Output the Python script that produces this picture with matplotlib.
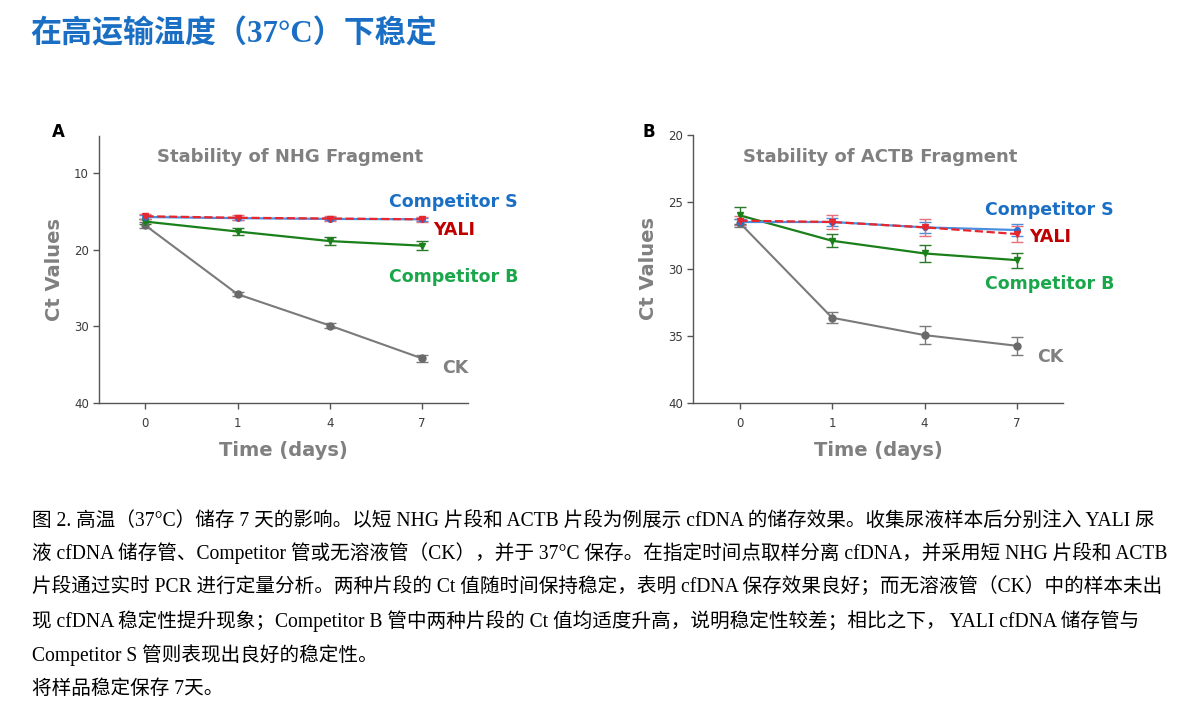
import matplotlib
matplotlib.use("Agg")
import matplotlib.pyplot as plt

plt.rcParams['font.family'] = ['DejaVu Sans']

W, H = 1194, 714

days = ["0", "1", "4", "7"]

# Panel A - NHG fragment
nhg_S = [15.7, 15.85, 15.95, 16.0]
nhg_S_err = [0.2, 0.2, 0.2, 0.2]
nhg_Y = [15.6, 15.8, 15.9, 16.0]
nhg_Y_err = [0.35, 0.3, 0.3, 0.3]
nhg_B = [16.3, 17.6, 18.85, 19.45]
nhg_B_err = [0.35, 0.4, 0.5, 0.55]
nhg_CK = [16.8, 25.8, 29.9, 34.2]
nhg_CK_err = [0.4, 0.25, 0.35, 0.5]

# Panel B - ACTB fragment
actb_S = [26.5, 26.5, 26.9, 27.1]
actb_S_err = [0.2, 0.3, 0.4, 0.45]
actb_Y = [26.4, 26.5, 26.9, 27.4]
actb_Y_err = [0.35, 0.55, 0.65, 0.6]
actb_B = [26.0, 27.9, 28.85, 29.35]
actb_B_err = [0.65, 0.5, 0.62, 0.57]
actb_CK = [26.55, 33.65, 34.95, 35.75]
actb_CK_err = [0.3, 0.4, 0.65, 0.65]

fig = plt.figure(figsize=(W/100, H/100), dpi=100)

GRAY = '#808080'
c_S_line, c_S_lab = '#4a8fe0', '#1a6fc4'
c_Y_line, c_Y_lab = '#e8262e', '#c00000'
c_B_line, c_B_lab = '#1a801a', '#1aa64b'
c_CK_line, c_CK_lab = '#7a7a7a', '#808080'


def panel(rect, S, Se, Y, Ye, B, Be, CK, CKe, ylim, yticks, title, title_xy,
          labs, letter, letter_xy):
    ax = fig.add_axes(rect)
    x = list(range(len(days)))
    ax.errorbar(x, CK, yerr=CKe, color=c_CK_line, marker='o', ms=5,
                mfc='#6a6a6a', mec='#6a6a6a', lw=1.5, capsize=4, elinewidth=1)
    ax.errorbar(x, B, yerr=Be, color=c_B_line, marker='v', ms=5,
                lw=1.6, capsize=4, elinewidth=1, ecolor='#2a7a2a')
    ax.errorbar(x, S, yerr=Se, color=c_S_line, marker='o', ms=4,
                mfc='#2a6fd0', mec='#2a6fd0', lw=1.6, capsize=4, elinewidth=1)
    ax.errorbar(x, Y, yerr=Ye, color=c_Y_line, marker='v', ms=5, ls='--',
                lw=1.6, capsize=4, elinewidth=1, ecolor='#e8707a')
    ax.set_xlim(-0.5, 3.5)
    ax.set_ylim(*ylim)
    ax.set_xticks(x)
    ax.set_xticklabels(days)
    ax.set_yticks(yticks)
    for s in ['top', 'right']:
        ax.spines[s].set_visible(False)
    for s in ['left', 'bottom']:
        ax.spines[s].set_color('#555555')
        ax.spines[s].set_linewidth(1.0)
    ax.tick_params(axis='both', colors='#555555', labelcolor='#3a3a3a',
                   labelsize=8.5, length=4, width=1, direction='out')
    ax.tick_params(axis='x', pad=6)
    ax.set_xlabel('Time (days)', fontsize=14, fontweight='bold', color=GRAY,
                  labelpad=8)
    ax.set_ylabel('Ct Values', fontsize=14, fontweight='bold', color=GRAY,
                  labelpad=7)
    fig.text(title_xy[0]/W, 1 - title_xy[1]/H, title, fontsize=13,
             fontweight='bold', color=GRAY, ha='center', va='center')
    for (txt, col, px, py) in labs:
        fig.text(px/W, 1 - py/H, txt, fontsize=12.5, fontweight='bold',
                 color=col, ha='left', va='center')
    fig.text(letter_xy[0]/W, 1 - letter_xy[1]/H, letter, fontsize=12,
             fontweight='bold', color='black', ha='center', va='center')
    return ax


panel([99.3/W, 1-402.7/H, (468-99.3)/W, (402.7-136)/H],
      nhg_S, nhg_S_err, nhg_Y, nhg_Y_err, nhg_B, nhg_B_err, nhg_CK, nhg_CK_err,
      (40, 5.1), [10, 20, 30, 40], 'Stability of NHG Fragment', (290, 157),
      [('Competitor S', c_S_lab, 389, 202), ('YALI', c_Y_lab, 433, 230),
       ('Competitor B', c_B_lab, 389, 277), ('CK', c_CK_lab, 442, 368)],
      'A', (58, 132))

panel([693.3/W, 1-402.7/H, (1063.3-693.3)/W, (402.7-135)/H],
      actb_S, actb_S_err, actb_Y, actb_Y_err, actb_B, actb_B_err, actb_CK,
      actb_CK_err, (40, 20), [20, 25, 30, 35, 40],
      'Stability of ACTB Fragment', (880, 157),
      [('Competitor S', c_S_lab, 985, 210), ('YALI', c_Y_lab, 1029, 237),
       ('Competitor B', c_B_lab, 985, 284), ('CK', c_CK_lab, 1037, 357)],
      'B', (649, 132))

# Header
fig.text(30/W, 1 - 34/H, '在高运输温度（37°C）下稳定', fontsize=22.3,
         fontweight='bold', color='#1a6fc4', ha='left', va='center',
         family=['Liberation Serif', 'Noto Sans CJK SC', 'DejaVu Sans'])

caption_lines = [
    "图 2. 高温（37°C）储存 7 天的影响。以短 NHG 片段和 ACTB 片段为例展示 cfDNA 的储存效果。收集尿液样本后分别注入 YALI 尿",
    "液 cfDNA 储存管、Competitor 管或无溶液管（CK），并于 37°C 保存。在指定时间点取样分离 cfDNA，并采用短 NHG 片段和 ACTB",
    "片段通过实时 PCR 进行定量分析。两种片段的 Ct 值随时间保持稳定，表明 cfDNA 保存效果良好；而无溶液管（CK）中的样本未出",
    "现 cfDNA 稳定性提升现象；Competitor B 管中两种片段的 Ct 值均适度升高，说明稳定性较差；相比之下， YALI cfDNA 储存管与",
    "Competitor S 管则表现出良好的稳定性。",
    "将样品稳定保存 7天。",
]
caption_y = [521, 553, 587, 621, 655, 689]
for line, yy in zip(caption_lines, caption_y):
    fig.text(32/W, 1 - yy/H, line, fontsize=14.1, color='#000000',
             ha='left', va='center',
             family=['Liberation Serif', 'Noto Sans CJK SC'])

fig.savefig('out.png', dpi=100)
